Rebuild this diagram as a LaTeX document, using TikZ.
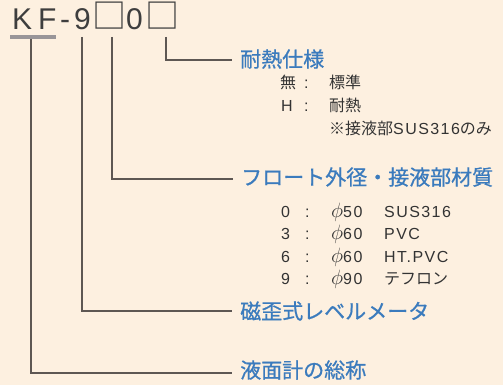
\documentclass[tikz,border=0pt]{standalone}
\usepackage{fontspec}
\setmainfont{Liberation Sans}
\newfontfamily\cjk{Noto Sans CJK JP}
\newfontfamily\cjkh[FakeBold=0.8]{Noto Sans CJK JP}
\newfontfamily\ls[LetterSpace=9]{Liberation Sans}
\definecolor{bgc}{HTML}{FDF0E0}
\definecolor{headc}{HTML}{3B7BBD}
\definecolor{linec}{HTML}{5E5753}
\definecolor{textc}{HTML}{333333}
\definecolor{ttlc}{HTML}{3E3E3E}
\definecolor{barc}{HTML}{999598}
\begin{document}
\begin{tikzpicture}[x=1pt,y=-1pt,
  ttl/.style={anchor=base west,inner sep=0,text=ttlc,font=\fontsize{30}{30}\selectfont},
  box/.style={anchor=base west,inner sep=0,text=ttlc,font=\cjk\fontsize{34}{34}\selectfont},
  head/.style={anchor=base west,inner sep=0,text=headc,font=\cjkh\fontsize{21}{21}\selectfont},
  item/.style={anchor=base west,inner sep=0,text=textc,font=\fontsize{16}{16}\selectfont},
  conn/.style={draw=linec,line width=1.1pt}]
\fill[bgc] (0,0) rectangle (503,385);
\useasboundingbox (0,0) rectangle (503,385);
% title
\node[ttl] (t1) at (12,30) {K};
\node[ttl] (t2) at (38,30) {F};
\node[ttl] (t3) at (60,30) {-};
\node[ttl] (t4) at (74,30) {9};
\node[box] (t5) at (92,29) {□};
\node[ttl] (t6) at (126,30) {0};
\node[box] (t7) at (145,29) {□};
\fill[barc] (10,35) rectangle (56,39);
% connector starts and ends
\coordinate (s1) at (31,39);
\coordinate (s2) at (82,37);
\coordinate (s3) at (112,37);
\coordinate (s4) at (166,37);
\coordinate (e1) at (232,373);
\coordinate (e2) at (232,311);
\coordinate (e3) at (233,179);
\coordinate (e4) at (232,60);
\draw[conn] (s1) |- (e1);
\draw[conn] (s2) |- (e2);
\draw[conn] (s3) |- (e3);
\draw[conn] (s4) |- (e4);
% headings
\node[head] (h4) at (240,67) {耐熱仕様};
\node[head] (h3) at (241,185) {フロート外径・接液部材質};
\node[head] (h2) at (240,319) {磁歪式レベルメータ};
\node[head] (h1) at (240,378) {液面計の総称};
% list 1
\node[item] (a1) at (280,89) {\cjk 無};
\node[item] (a1c) at (304,89) {:};
\node[item] (a1v) at (329,89) {\cjk 標準};
\node[item] (a2) at (281,112) {H};
\node[item] (a2c) at (304,112) {:};
\node[item] (a2v) at (329,112) {\cjk 耐熱};
\node[item] (a3v) at (329,135) {{\cjk ※接液部}\ls SUS316{\cjk のみ}};
% list 2
\node[item] (b1) at (281,217) {0};
\node[item] (b1c) at (305,217) {:};
\node[item] (b1p) at (331,217) {{\fontsize{20}{20}\selectfont$\phi$}\ls 50};
\node[item] (b1m) at (384,217) {\ls SUS316};
\node[item] (b2) at (281,239) {3};
\node[item] (b2c) at (305,239) {:};
\node[item] (b2p) at (331,239) {{\fontsize{20}{20}\selectfont$\phi$}\ls 60};
\node[item] (b2m) at (384,239) {\ls PVC};
\node[item] (b3) at (281,262) {6};
\node[item] (b3c) at (305,262) {:};
\node[item] (b3p) at (331,262) {{\fontsize{20}{20}\selectfont$\phi$}\ls 60};
\node[item] (b3m) at (384,262) {\ls HT.PVC};
\node[item] (b4) at (281,284) {9};
\node[item] (b4c) at (305,284) {:};
\node[item] (b4p) at (331,284) {{\fontsize{20}{20}\selectfont$\phi$}\ls 90};
\node[item] (b4m) at (384,284) {\cjk テフロン};
\end{tikzpicture}
\end{document}
